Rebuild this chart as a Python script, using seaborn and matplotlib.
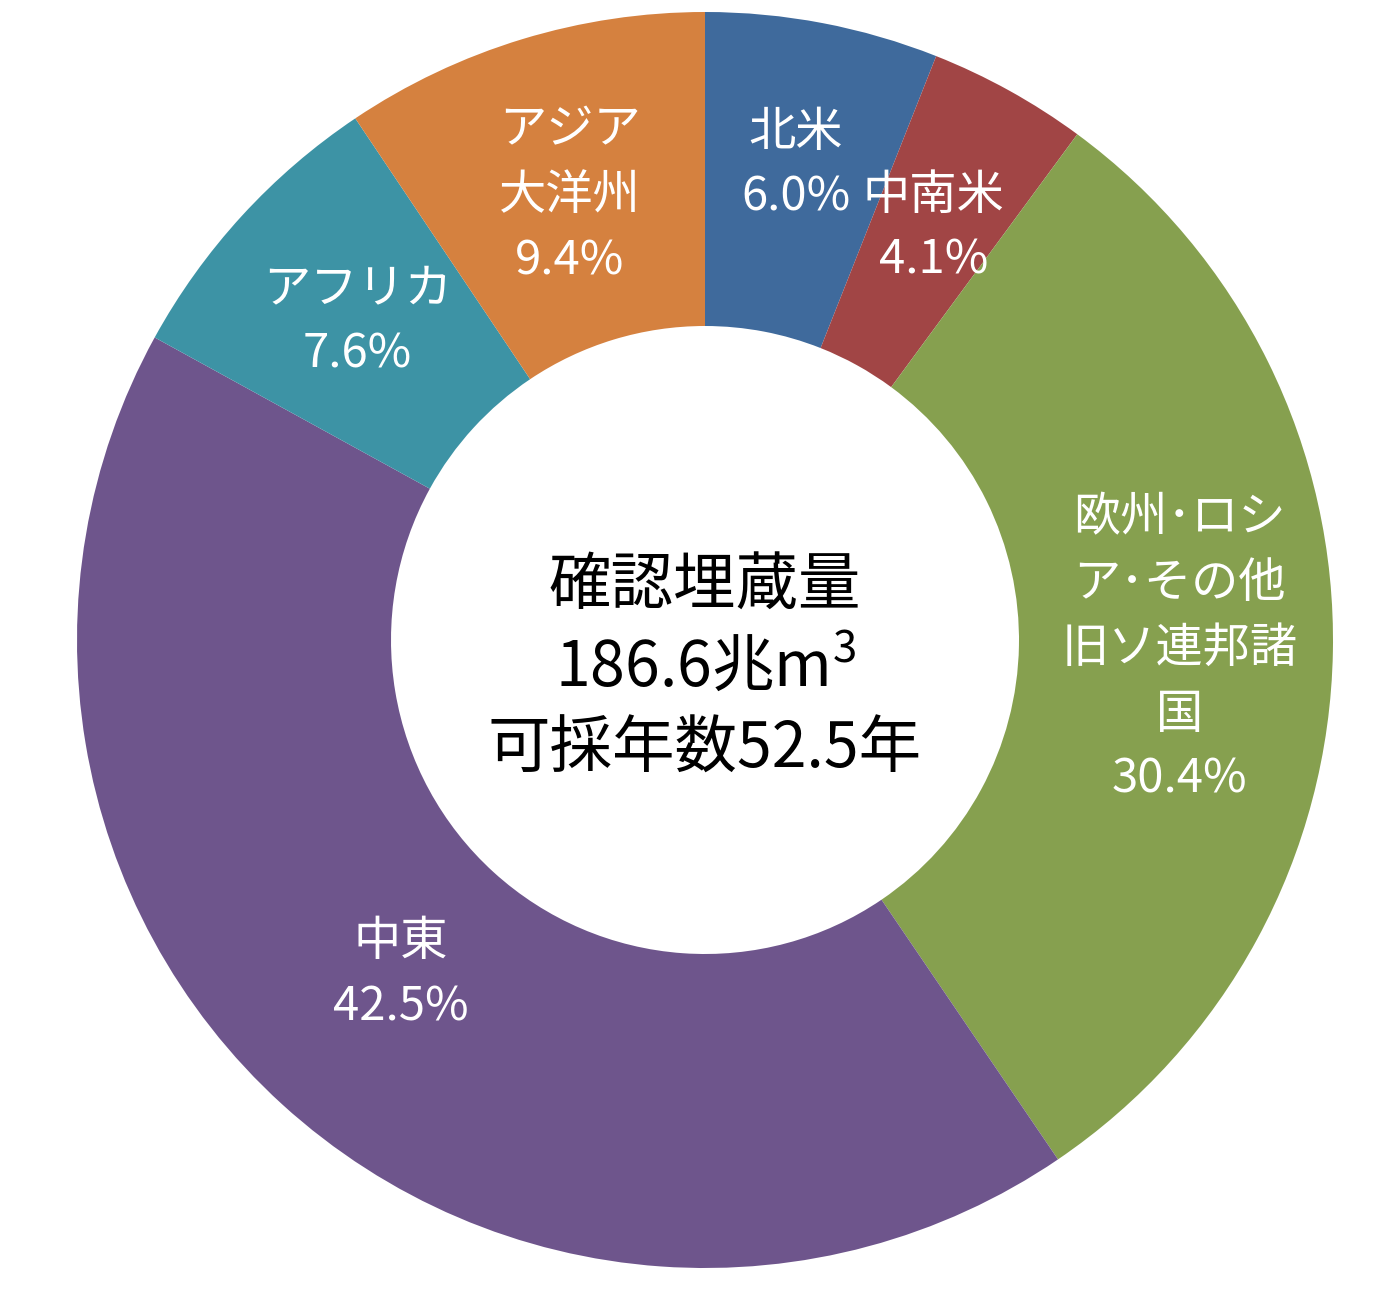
import numpy as np
import matplotlib
matplotlib.use("Agg")
import matplotlib.pyplot as plt
import seaborn as sns

regions = ["北米", "中南米", "欧州･ロシ\nア･その他\n旧ソ連邦諸\n国", "中東", "アフリカ", "アジア\n大洋州"]
shares = [6.0, 4.1, 30.4, 42.5, 7.6, 9.4]
colors = ["#3f6a9c", "#a14545", "#86a04f", "#6e558c", "#3d93a5", "#d5813f"]
center_lines = ["確認埋蔵量", "186.6兆m$^3$", "可採年数52.5年"]

sns.set_theme(style="white")
plt.rcParams['font.family'] = ['Noto Sans CJK JP', 'DejaVu Sans']
plt.rcParams['mathtext.fontset'] = 'custom'
plt.rcParams['mathtext.rm'] = 'Noto Sans CJK JP'

W, H = 1380, 1290
cx, cy, R = 705, 640, 628
fig = plt.figure(figsize=(W / 100, H / 100), dpi=100)
ax = fig.add_axes([0, 0, 1, 1])
ax.axis("off")

wedges, _ = ax.pie(shares, colors=colors, startangle=90, counterclock=False,
                   radius=1.0, wedgeprops=dict(width=0.5, edgecolor="none"),
                   center=(0, 0), frame=False)
ax.set_xlim(-cx / R, (W - cx) / R)
ax.set_ylim(-(H - cy) / R, cy / R)
ax.set_aspect("equal")

dist = [0.77, 0.75, 0.756, 0.72, 0.75, 0.74]
for w, name, val, d in zip(wedges, regions, shares, dist):
    ang = np.deg2rad((w.theta1 + w.theta2) / 2)
    ax.text(d * np.cos(ang), d * np.sin(ang), f"{name}\n{val:.1f}%",
            ha="center", va="center", color="white", fontsize=34,
            linespacing=1.45)

ax.text(0, -0.045, "\n".join(center_lines), ha="center", va="center",
        color="black", fontsize=45, linespacing=1.33, fontweight="normal")

fig.savefig("out.png", dpi=100, facecolor="white")
